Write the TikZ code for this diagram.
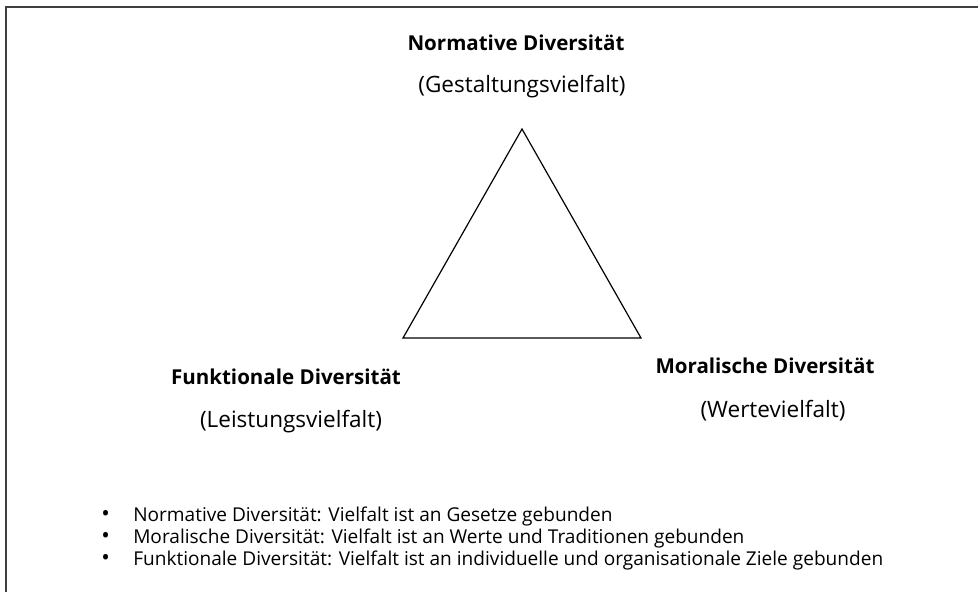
\documentclass[tikz,border=0pt]{standalone}
\usepackage{fontspec}
\setmainfont{Open Sans}
\begin{document}
\begin{tikzpicture}[x=0.75pt,y=-0.75pt,
  head/.style={font=\fontsize{15.4}{19}\selectfont\bfseries, inner sep=0pt},
  sub/.style={font=\fontsize{16.9}{20}\selectfont, inner sep=0pt},
  bul/.style={font=\fontsize{14.3}{17}\selectfont, inner sep=0pt, anchor=base west},
  dot/.style={font=\fontsize{17}{17}\selectfont, inner sep=0pt, anchor=base west},
  line/.style={draw=black!75, line width=1.6pt}]
\useasboundingbox (0,0) rectangle (978,592);
% frame (only top and left visible)
\coordinate (fTR) at (980,7);
\coordinate (fTL) at (6,7);
\coordinate (fBL) at (6,594);
\draw[line] (fBL) -- (fTL) -- (fTR);
% triangle
\coordinate (apex) at (522,129);
\coordinate (bl) at (403,338);
\coordinate (br) at (641,338);
\draw[line width=0.9pt, line join=miter] (apex) -- (bl) -- (br) -- cycle;
% labels
\node[head] (nd) at (516,43) {Normative Diversität};
\node[sub]  (ng) at (522,87) {(Gestaltungsvielfalt)};
\node[head] (fd) at (286,377) {Funktionale Diversität};
\node[sub]  (fl) at (291,422) {(Leistungsvielfalt)};
\node[head] (md) at (765,366) {Moralische Diversität};
\node[sub]  (mw) at (773,411) {(Wertevielfalt)};
% bullets
\node[dot] (b1) at (101,521) {•};
\node[bul] (t1) at (133,521) {Normative Diversität: Vielfalt ist an Gesetze gebunden};
\node[dot] (b2) at (101,543) {•};
\node[bul] (t2) at (133,543) {Moralische Diversität: Vielfalt ist an Werte und Traditionen gebunden};
\node[dot] (b3) at (101,565) {•};
\node[bul] (t3) at (133,565) {Funktionale Diversität: Vielfalt ist an individuelle und organisationale Ziele gebunden};
\end{tikzpicture}
\end{document}
